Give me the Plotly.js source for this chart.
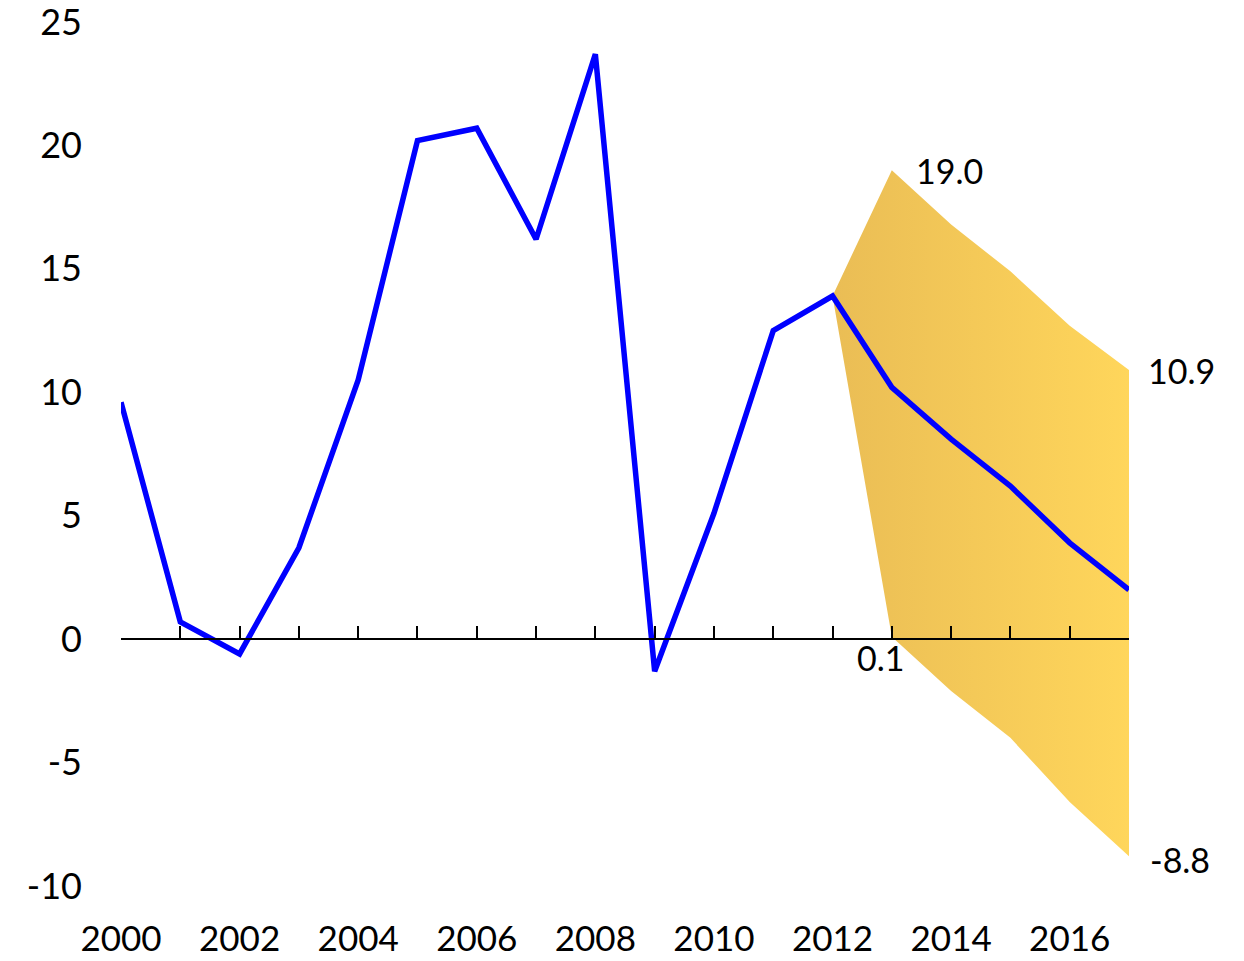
<!DOCTYPE html>
<html>
<head>
<meta charset="utf-8">
<script src="https://cdn.plot.ly/plotly-3.0.1.min.js"></script>
<style>html,body{margin:0;padding:0;background:#fff;}#chart{width:1244px;height:961px;}</style>
</head>
<body>
<div id="chart"></div>
<script>
// ---- data ----
const years = [2000,2001,2002,2003,2004,2005,2006,2007,2008,2009,2010,2011,2012,2013,2014,2015,2016,2017];
const growth = [9.6,0.7,-0.6,3.7,10.5,20.2,20.7,16.2,23.7,-1.3,5.1,12.5,13.9,10.2,8.1,6.2,3.9,2.0];
const bandYears = [2012,2013,2014,2015,2016,2017];
const bandUpper = [13.9,19.0,16.8,14.9,12.7,10.9];
const bandLower = [13.9,0.1,-2.1,-4.0,-6.6,-8.8];
const xTickLabels = years.map(y => (y % 2 === 0 ? String(y) : ''));
const yTicks = [-10,-5,0,5,10,15,20,25];

const FONT = 'Lato, "Open Sans", sans-serif';
const yMin = -10.002, yMax = 25.002;

const bandX = bandYears.concat(bandYears.slice().reverse());
const bandY = bandUpper.concat(bandLower.slice().reverse());

const traces = [
  {
    x: bandX, y: bandY, type: 'scatter', mode: 'lines',
    fill: 'toself', line: {width: 0, color: 'rgba(0,0,0,0)'},
    fillcolor: '#F6CC58',
    fillgradient: {type: 'horizontal', colorscale: [[0, '#EABD55'], [1, '#FFD65B']]},
    hoverinfo: 'skip', showlegend: false
  },
  {
    x: years, y: growth, type: 'scatter', mode: 'lines',
    line: {color: '#0000FF', width: 5.5}, showlegend: false, cliponaxis: false
  }
];

const last = bandYears.length - 1;
const annFont = {family: FONT, size: 34, color: '#000'};
const annotations = [
  {x: bandYears[1], y: bandUpper[1], text: bandUpper[1].toFixed(1), showarrow: false,
   xanchor: 'left', yanchor: 'middle', xshift: 22, font: annFont},
  {x: bandYears[last], y: bandUpper[last], text: bandUpper[last].toFixed(1), showarrow: false,
   xanchor: 'left', yanchor: 'middle', xshift: 17, font: annFont},
  {x: bandYears[1], y: bandLower[1], text: bandLower[1].toFixed(1), showarrow: false,
   xanchor: 'center', yanchor: 'middle', xshift: -11, yshift: -21, font: annFont},
  {x: bandYears[last], y: bandLower[last], text: bandLower[last].toFixed(1), showarrow: false,
   xanchor: 'left', yanchor: 'middle', xshift: 19, yshift: -3, font: annFont}
];

const layout = {
  width: 1244, height: 961,
  margin: {l: 121, r: 115, t: 22, b: 75},
  paper_bgcolor: '#fff', plot_bgcolor: '#fff',
  showlegend: false,
  font: {family: FONT, size: 36, color: '#000'},
  xaxis: {
    range: [years[0], years[years.length - 1]],
    anchor: 'free', position: (0 - yMin) / (yMax - yMin),
    tickmode: 'array', tickvals: years, ticktext: xTickLabels,
    ticks: 'inside', ticklen: 12, tickwidth: 2, tickcolor: '#000',
    showline: true, linecolor: '#000', linewidth: 2,
    showgrid: false, zeroline: false,
    ticklabelstandoff: 269, ticklabeloverflow: 'allow',
    tickfont: {family: FONT, size: 35, color: '#000'},
    automargin: false, fixedrange: true
  },
  yaxis: {
    range: [yMin, yMax],
    tickmode: 'array', tickvals: yTicks, ticktext: yTicks.map(String),
    ticks: '', showline: false, showgrid: false, zeroline: false,
    ticklabelstandoff: 38, ticklabeloverflow: 'allow',
    tickfont: {family: FONT, size: 36, color: '#000'},
    automargin: false, fixedrange: true
  },
  annotations: annotations
};

Plotly.newPlot('chart', traces, layout, {staticPlot: true, displayModeBar: false});
</script>
</body>
</html>
